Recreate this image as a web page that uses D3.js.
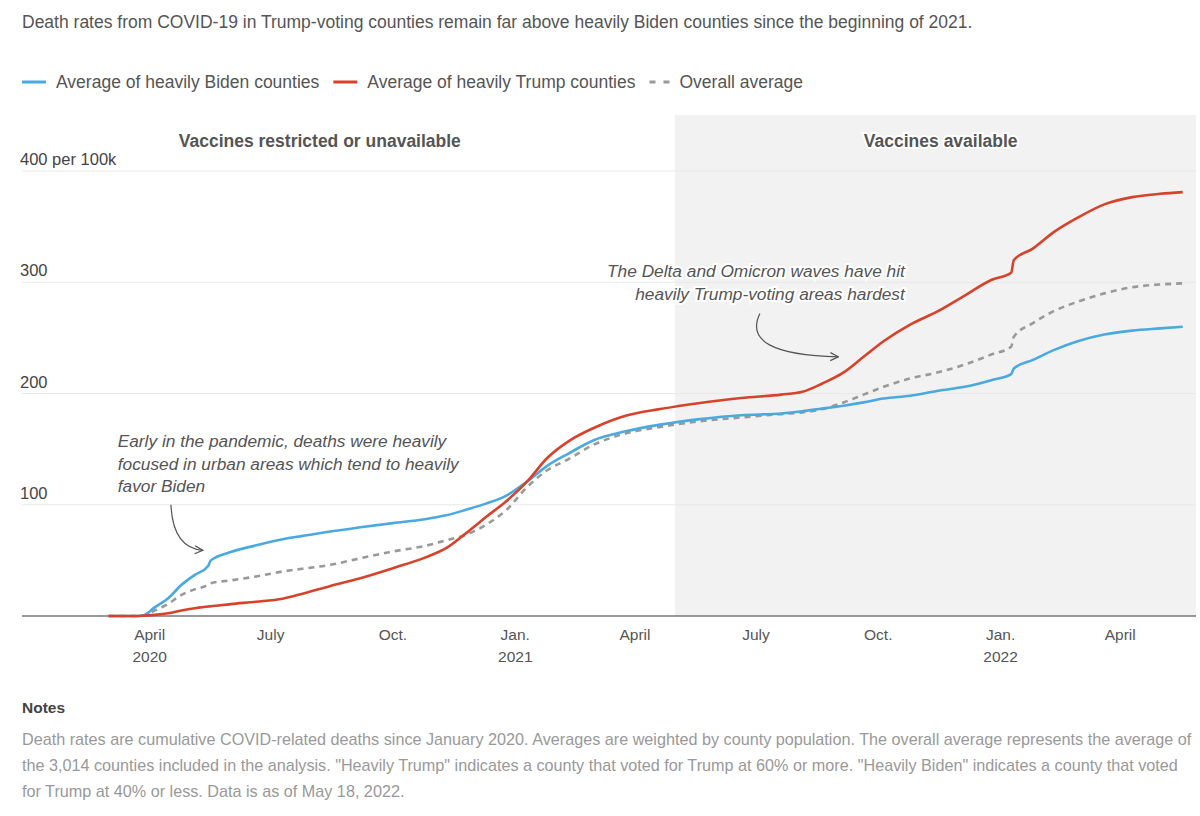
<!DOCTYPE html>
<html>
<head>
<meta charset="utf-8">
<script src="https://cdn.jsdelivr.net/npm/d3@7"></script>
<style>
  body { margin: 0; background: #fff; font-family: "Liberation Sans", Arial, sans-serif; }
  svg { display: block; }
</style>
</head>
<body>
<svg id="chart"></svg>
<script>
// cumulative deaths per 100k
var dates = ["2020-03-01","2020-03-20","2020-03-27","2020-04-05","2020-04-15","2020-04-25","2020-05-05","2020-05-15","2020-05-17",
  "2020-06-01","2020-06-20","2020-07-10","2020-07-25","2020-08-15","2020-09-05","2020-10-01","2020-10-25","2020-11-10",
  "2020-11-25","2020-12-10","2020-12-25","2021-01-10","2021-01-25","2021-02-10","2021-03-01","2021-03-25","2021-04-20",
  "2021-05-20","2021-06-20","2021-07-20","2021-08-05","2021-08-20","2021-09-05","2021-09-20","2021-10-05","2021-10-25",
  "2021-11-15","2021-12-05","2021-12-25","2022-01-09","2022-01-11","2022-01-25","2022-02-10","2022-02-28","2022-03-20",
  "2022-04-10","2022-05-01","2022-05-18"];
var biden = [0,0,0.5,8,16,28,37,45,50,
  57.5,63.5,69,72,76,79.5,83.5,87,90.5,
  95.5,101,108,121,135,146,158,166,172,
  177,180.5,182,184,186.5,189,192,195.5,198,
  202.5,206,212,217.5,222.5,230,239,247,253,
  256.5,258.5,260];
var trump = [0,0,0.2,1,2.5,5,7,8.5,8.7,
  10.7,12.8,15.5,20,27,33.5,43,52.5,61,
  74.5,89,103,121,142,157,169,180,186,
  191.5,196,199,201.5,209,219,233,247,262,
  274,288,302,308.5,320,330,345,358,370,
  376.5,379.5,381];
var overall = [0,0,0.3,5,11,19,24,28,29.5,
  32,35.5,40,42.5,46,51.5,58,63,68,
  73,82,95,116,131,141,154,164,170,
  175,178.5,181.5,183,186,192,199,206,213.5,
  219,226,235,242,251,263,274,282.5,290,
  295.5,298,299];

var yTicks = [0, 100, 200, 300, 400];
var xTicks = ["2020-04-01","2020-07-01","2020-10-01","2021-01-01","2021-04-01","2021-07-01","2021-10-01","2022-01-01","2022-04-01"];
var monthNames = {0: "Jan.", 3: "April", 6: "July", 9: "Oct."};

var seriesNames = ["Average of heavily Biden counties", "Average of heavily Trump counties", "Overall average"];
var seriesColors = ["#4aa9e0", "#d8412a", "#999999"];

var vaccineStart = "2021-05-01";

var W = 1200, H = 816;
var parse = d3.timeParse("%Y-%m-%d");

var svg = d3.select("#chart").attr("width", W).attr("height", H);

var x = d3.scaleTime()
  .domain([parse("2019-12-27"), parse("2022-05-28")])
  .range([22, 1196]);
var y = d3.scaleLinear().domain([0, 400]).range([616, 171]);

var rows = dates.map((d, i) => ({ date: parse(d), b: biden[i], t: trump[i], o: overall[i] }));

// shaded "vaccines available" region
svg.append("rect")
  .attr("x", x(parse(vaccineStart)))
  .attr("y", 115)
  .attr("width", x.range()[1] - x(parse(vaccineStart)))
  .attr("height", y(0) - 115)
  .attr("fill", "#f2f2f2");

// gridlines
svg.append("g").selectAll("line")
  .data(yTicks.filter(v => v > 0))
  .join("line")
  .attr("x1", x.range()[0]).attr("x2", x.range()[1])
  .attr("y1", d => y(d)).attr("y2", d => y(d))
  .attr("stroke", "#e8e8e8").attr("stroke-width", 1);

svg.append("g").selectAll("text")
  .data(yTicks.filter(v => v > 0))
  .join("text")
  .attr("x", 20)
  .attr("y", d => y(d) - 6)
  .attr("font-size", 16.5)
  .attr("fill", "#444")
  .text(d => d === 400 ? "400 per 100k" : d);

// baseline
svg.append("line")
  .attr("x1", x.range()[0]).attr("x2", x.range()[1])
  .attr("y1", y(0)).attr("y2", y(0))
  .attr("stroke", "#777").attr("stroke-width", 1.5);

// x axis labels
var xg = svg.append("g").selectAll("g")
  .data(xTicks.map(parse))
  .join("g")
  .attr("transform", d => `translate(${x(d)},0)`);
xg.append("text")
  .attr("y", 640)
  .attr("text-anchor", "middle")
  .attr("font-size", 15.5)
  .attr("fill", "#555")
  .text(d => monthNames[d.getMonth()]);
xg.filter(d => d.getMonth() === 3 && d.getFullYear() === 2020 || d.getMonth() === 0)
  .append("text")
  .attr("y", 662)
  .attr("text-anchor", "middle")
  .attr("font-size", 15.5)
  .attr("fill", "#555")
  .text(d => d.getFullYear());

// period labels
var periodLabels = [
  { date: "2020-08-07", text: "Vaccines restricted or unavailable" },
  { date: "2021-11-17", text: "Vaccines available" }
];
svg.append("g").selectAll("text")
  .data(periodLabels)
  .join("text")
  .attr("x", d => x(parse(d.date)))
  .attr("y", 147)
  .attr("text-anchor", "middle")
  .attr("font-size", 17.5)
  .attr("font-weight", "bold")
  .attr("fill", "#555")
  .attr("stroke", "#fff").attr("stroke-width", 4)
  .attr("paint-order", "stroke")
  .text(d => d.text);

// lines
var keys = ["b", "t", "o"];
var drawOrder = [2, 0, 1];
drawOrder.forEach(i => {
  var line = d3.line()
    .x(d => x(d.date))
    .y(d => y(d[keys[i]]))
    .curve(d3.curveMonotoneX);
  svg.append("path")
    .datum(rows)
    .attr("d", line)
    .attr("fill", "none")
    .attr("stroke", seriesColors[i])
    .attr("stroke-width", 2.6)
    .attr("stroke-dasharray", i === 2 ? "6,5" : null)
    .attr("stroke-linejoin", "round");
});

// annotations
svg.append("defs").append("marker")
  .attr("id", "head")
  .attr("viewBox", "0 0 10 10")
  .attr("refX", 9).attr("refY", 5)
  .attr("markerWidth", 10).attr("markerHeight", 10)
  .attr("markerUnits", "userSpaceOnUse")
  .attr("orient", "auto")
  .append("path")
  .attr("d", "M1,1 L9,5 L1,9")
  .attr("fill", "none")
  .attr("stroke", "#555")
  .attr("stroke-width", 1.3);

var notes = [
  { date: "2020-03-08", value: 151.5, anchor: "start",
    lines: ["Early in the pandemic, deaths were heavily", "focused in urban areas which tend to heavily", "favor Biden"],
    from: ["2020-04-17", 100], to: ["2020-05-11", 59], bend: 2 },
  { date: "2021-10-21", value: 304.5, anchor: "end",
    lines: ["The Delta and Omicron waves have hit", "heavily Trump-voting areas hardest"],
    from: ["2021-07-04", 272], to: ["2021-09-01", 233], bend: -20 }
];
notes.forEach(n => {
  var t = svg.append("text")
    .attr("x", x(parse(n.date)))
    .attr("y", y(n.value))
    .attr("text-anchor", n.anchor)
    .attr("font-size", 17.3)
    .attr("font-style", "italic")
    .attr("fill", "#555")
    .attr("stroke", "#fff").attr("stroke-width", 4)
    .attr("paint-order", "stroke");
  t.selectAll("tspan")
    .data(n.lines)
    .join("tspan")
    .attr("x", x(parse(n.date)))
    .attr("dy", (d, i) => i === 0 ? 0 : 22.5)
    .text(d => d);
  var x0 = x(parse(n.from[0])), y0 = y(n.from[1]);
  var x1 = x(parse(n.to[0])), y1 = y(n.to[1]);
  svg.append("path")
    .attr("d", `M${x0},${y0} Q${x0 + n.bend},${y1 - (y1 - y0) * 0.05} ${x1},${y1}`)
    .attr("fill", "none")
    .attr("stroke", "#555")
    .attr("stroke-width", 1.2)
    .attr("marker-end", "url(#head)");
});

// title
svg.append("text")
  .attr("x", 22).attr("y", 28)
  .attr("font-size", 17.5)
  .attr("fill", "#555")
  .text("Death rates from COVID-19 in Trump-voting counties remain far above heavily Biden counties since the beginning of 2021.");

// legend
var lx = 22;
var legend = svg.append("g");
seriesNames.forEach((name, i) => {
  var sw = i === 2 ? 20 : 24;
  legend.append("line")
    .attr("x1", lx).attr("x2", lx + sw)
    .attr("y1", 82).attr("y2", 82)
    .attr("stroke", seriesColors[i])
    .attr("stroke-width", 3)
    .attr("stroke-dasharray", i === 2 ? "6,8" : null);
  var txt = legend.append("text")
    .attr("x", lx + sw + 10).attr("y", 88)
    .attr("font-size", 17.5)
    .attr("fill", "#555")
    .text(name);
  lx += sw + 10 + txt.node().getComputedTextLength() + 14;
});

// notes
svg.append("text")
  .attr("x", 22).attr("y", 713)
  .attr("font-size", 15.5)
  .attr("font-weight", "bold")
  .attr("fill", "#444")
  .text("Notes");
var noteLines = [
  "Death rates are cumulative COVID-related deaths since January 2020. Averages are weighted by county population. The overall average represents the average of",
  "the 3,014 counties included in the analysis. \"Heavily Trump\" indicates a county that voted for Trump at 60% or more. \"Heavily Biden\" indicates a county that voted",
  "for Trump at 40% or less. Data is as of May 18, 2022."
];
svg.append("g").selectAll("text")
  .data(noteLines)
  .join("text")
  .attr("x", 22)
  .attr("y", (d, i) => 745 + i * 26)
  .attr("font-size", 16.2)
  .attr("fill", "#999")
  .text(d => d);
</script>
</body>
</html>
